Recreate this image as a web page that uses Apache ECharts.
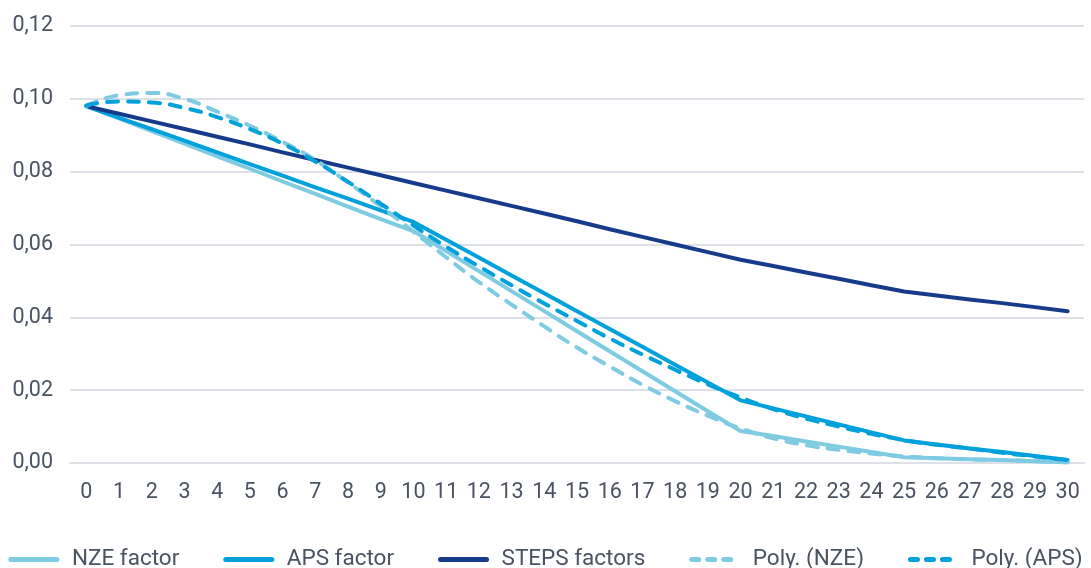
<!DOCTYPE html>
<html>
<head>
<meta charset="utf-8">
<script src="https://cdn.jsdelivr.net/npm/echarts@6/dist/echarts.min.js"></script>
<style>
html,body{margin:0;padding:0;background:#fff;}
#chart{width:1091px;height:568px;}
</style>
</head>
<body>
<div id="chart"></div>
<script>
const years = ['0','1','2','3','4','5','6','7','8','9','10','11','12','13','14','15','16','17','18','19','20','21','22','23','24','25','26','27','28','29','30'];
const nzeFactor = [0.0980,0.0946,0.0911,0.0877,0.0842,0.0808,0.0773,0.0739,0.0704,0.0670,0.0637,0.0582,0.0527,0.0472,0.0417,0.0362,0.0307,0.0252,0.0197,0.0142,0.0088,0.0074,0.0059,0.0045,0.0030,0.0016,0.0013,0.0010,0.0008,0.0005,0.0002];
const apsFactor = [0.0980,0.0948,0.0917,0.0885,0.0853,0.0821,0.0789,0.0757,0.0726,0.0694,0.0662,0.0613,0.0564,0.0515,0.0466,0.0417,0.0368,0.0319,0.0270,0.0221,0.0172,0.0150,0.0128,0.0106,0.0084,0.0062,0.0051,0.0040,0.0030,0.0019,0.0008];
const stepsFactors = [0.0980,0.0959,0.0938,0.0917,0.0896,0.0875,0.0853,0.0832,0.0811,0.0790,0.0769,0.0748,0.0727,0.0706,0.0685,0.0664,0.0642,0.0621,0.0600,0.0579,0.0558,0.0541,0.0523,0.0506,0.0488,0.0471,0.0460,0.0449,0.0439,0.0428,0.0417];
const polyNze = [0.0980,0.1010,0.1016,0.1000,0.0965,0.0926,0.0882,0.0832,0.0770,0.0705,0.0635,0.0565,0.0497,0.0435,0.0375,0.0317,0.0265,0.0215,0.0170,0.0130,0.0095,0.0068,0.0049,0.0036,0.0026,0.0018,0.0013,0.0010,0.0008,0.0005,0.0002];
const polyAps = [0.0982,0.0993,0.0990,0.0975,0.0950,0.0917,0.0877,0.0828,0.0772,0.0712,0.0652,0.0594,0.0540,0.0488,0.0438,0.0390,0.0342,0.0298,0.0256,0.0216,0.0180,0.0148,0.0122,0.0100,0.0080,0.0063,0.0050,0.0040,0.0028,0.0018,0.0008];
const yTicks = [0, 0.02, 0.04, 0.06, 0.08, 0.10, 0.12];

const C_NZE = '#7ecbe2', C_APS = '#00a1db', C_STEPS = '#173b8b';
const FONT = 'Roboto';
const TXT = '#4a5361';
const chart = echarts.init(document.getElementById('chart'), null, {renderer:'canvas'});
function solid(name, data, color){
  return {name, type:'line', data, symbol:'none', smooth:false,
    lineStyle:{color, width:4, cap:'round', join:'round'}, itemStyle:{color}, z:2};
}
function dashed(name, data, color){
  return {name, type:'line', data, symbol:'none', smooth:true,
    lineStyle:{color, width:4, type:[11,10], cap:'round', join:'round'}, itemStyle:{color}, z:3};
}
const legItem = (name, dashedStyle) => ({name,
  itemStyle:{opacity:0},
  lineStyle: dashedStyle ? {width:5, type:[7,9], cap:'round', opacity:1} : {width:5, cap:'round', opacity:1}});
chart.setOption({
  animation:false,
  grid:{left:70, right:7, top:26, bottom:105, containLabel:false},
  xAxis:{type:'category', data:years, boundaryGap:true,
    axisLine:{show:true, lineStyle:{color:'#dde1e7', width:2}},
    axisTick:{show:false},
    axisLabel:{color:TXT, fontFamily:FONT, fontSize:21.5, margin:19, interval:0}},
  yAxis:{type:'value', min:yTicks[0], max:yTicks[yTicks.length-1], interval:0.02,
    axisLine:{show:false}, axisTick:{show:false},
    splitLine:{lineStyle:{color:'#dde1e7', width:2}},
    axisLabel:{color:TXT, fontFamily:FONT, fontSize:21.5, margin:17,
      formatter:v=>v.toFixed(2).replace('.',',')}},
  legend:{top:548, left:'center', width:1091, padding:0, itemWidth:46, itemHeight:14, itemGap:44,
    textStyle:{color:TXT, fontFamily:FONT, fontSize:22.5, padding:[0,0,0,10]},
    data:[
      legItem('NZE factor', false),
      legItem('APS factor', false),
      legItem('STEPS factors', false),
      legItem('Poly. (NZE)', true),
      legItem('Poly. (APS)', true)
    ]},
  series:[
    solid('NZE factor', nzeFactor, C_NZE),
    solid('APS factor', apsFactor, C_APS),
    solid('STEPS factors', stepsFactors, C_STEPS),
    dashed('Poly. (NZE)', polyNze, C_NZE),
    dashed('Poly. (APS)', polyAps, C_APS)
  ]
});
</script>
</body>
</html>
